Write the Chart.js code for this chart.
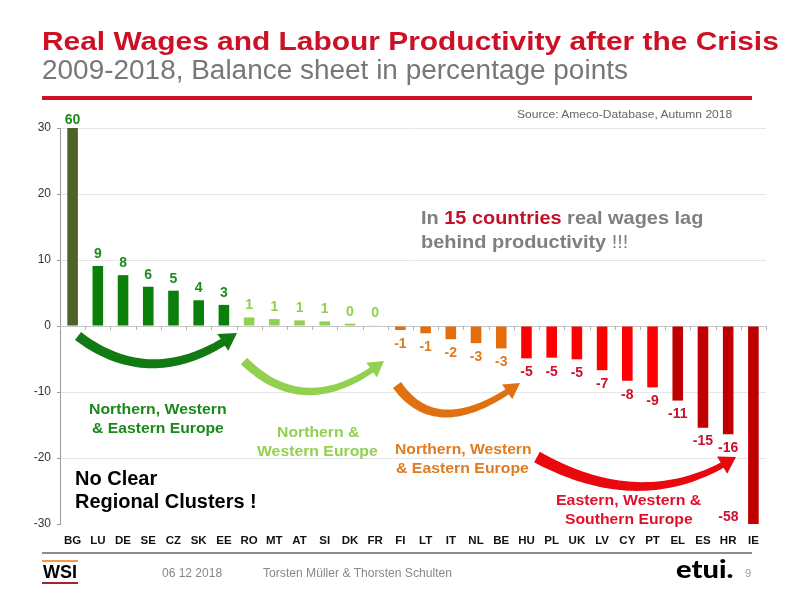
<!DOCTYPE html>
<html>
<head>
<meta charset="utf-8">
<script src="https://cdn.jsdelivr.net/npm/chart.js@4"></script>
<style>
  html, body { margin: 0; padding: 0; background: #fff; }
  #page { position: relative; width: 794px; height: 595px; overflow: hidden; font-family: "Liberation Sans", Arial, sans-serif; }
  #chart { position: absolute; left: 0; top: 0; }
  .t { position: absolute; white-space: nowrap; transform-origin: 0 0; }
  .rule { position: absolute; }
</style>
</head>
<body>
<div id="page">
  <canvas id="chart" width="794" height="595"></canvas>
</div>
<script>
// data (BG and IE run off the axis)
const countries = ["BG","LU","DE","SE","CZ","SK","EE","RO","MT","AT","SI","DK","FR",
                   "FI","LT","IT","NL","BE","HU","PL","UK","LV","CY","PT","EL","ES","HR","IE"];
const balance = [60, 9.1, 7.7, 5.95, 5.35, 3.9, 3.2, 1.3, 1.05, 0.85, 0.7, 0.35, 0.1,
                 -0.6, -1.1, -2.0, -2.6, -3.4, -4.9, -4.8, -5.05, -6.7, -8.3, -9.3, -11.3, -15.4, -16.4, -58];
const cluster = [0,1,1,1,1,1,1,2,2,2,2,2,2,3,3,3,3,3,4,4,4,4,4,4,5,5,5,5];
const yTicks = [-30, -20, -10, 0, 10, 20, 30];

const barColors = ["#4F6228", "#0A7F0A", "#92D050", "#E46C0A", "#FF0000", "#C00000"];
const labelColors = ["#1E8A1E", "#1E8A1E", "#92D050", "#E07B20", "#D0102A", "#C8102E"];
const FONT = '"Liberation Sans", Arial, sans-serif';

const page = document.getElementById("page");

function addText(html, x, y, o) {
  const d = document.createElement("div");
  d.className = "t";
  d.innerHTML = html;
  d.style.font = (o.weight || "normal") + " " + o.size + "px " + (o.family || FONT);
  d.style.lineHeight = "1";
  d.style.color = o.color || "#000";
  page.appendChild(d);
  const w = d.offsetWidth, h = d.offsetHeight;
  const s = o.width ? o.width / w : 1;
  let left = x;
  if (o.align === "center") left = x - w * s / 2;
  if (o.align === "right") left = x - w * s;
  d.style.left = left + "px";
  d.style.top = (y - h / 2) + "px";
  d.style.transform = "scaleX(" + s + ")";
}

function addRule(x, y, w, h, color) {
  const d = document.createElement("div");
  d.className = "rule";
  d.style.left = x + "px"; d.style.top = y + "px";
  d.style.width = w + "px"; d.style.height = h + "px";
  d.style.background = color;
  page.appendChild(d);
}

function drawArrow(ctx, a, c, b, w0, w1, hw, hl, color) {
  const pt = t => ({
    x: (1 - t) * (1 - t) * a.x + 2 * (1 - t) * t * c.x + t * t * b.x,
    y: (1 - t) * (1 - t) * a.y + 2 * (1 - t) * t * c.y + t * t * b.y
  });
  let tb = 1;
  while (tb > 0 && Math.hypot(pt(tb).x - b.x, pt(tb).y - b.y) < hl) tb -= 0.005;
  const N = 40, left = [], right = [];
  for (let i = 0; i <= N; i++) {
    const t = tb * i / N;
    const p = pt(t);
    const dx = 2 * (1 - t) * (c.x - a.x) + 2 * t * (b.x - c.x);
    const dy = 2 * (1 - t) * (c.y - a.y) + 2 * t * (b.y - c.y);
    const L = Math.hypot(dx, dy);
    const w = (w0 + (w1 - w0) * i / N) / 2;
    left.push([p.x - dy / L * w, p.y + dx / L * w]);
    right.push([p.x + dy / L * w, p.y - dx / L * w]);
  }
  const B = pt(tb);
  const L = Math.hypot(b.x - B.x, b.y - B.y);
  const ux = (b.x - B.x) / L, uy = (b.y - B.y) / L;
  ctx.beginPath();
  left.forEach((p, i) => i ? ctx.lineTo(p[0], p[1]) : ctx.moveTo(p[0], p[1]));
  ctx.lineTo(B.x - uy * hw / 2, B.y + ux * hw / 2);
  ctx.lineTo(b.x, b.y);
  ctx.lineTo(B.x + uy * hw / 2, B.y - ux * hw / 2);
  for (let i = right.length - 1; i >= 0; i--) ctx.lineTo(right[i][0], right[i][1]);
  ctx.closePath();
  ctx.fillStyle = color;
  ctx.fill();
}

const overlay = {
  id: "overlay",
  afterDatasetsDraw(chart) {
    const { ctx, chartArea, scales: { y } } = chart;
    const meta = chart.getDatasetMeta(0);
    ctx.save();

    // little ticks on the zero line
    const y0 = y.getPixelForValue(0);
    ctx.strokeStyle = "#b5b5b5";
    ctx.lineWidth = 1;
    ctx.beginPath();
    for (let i = 0; i <= countries.length; i++) {
      const px = Math.round(chartArea.left + (chartArea.right - chartArea.left) * i / countries.length) + 0.5;
      ctx.moveTo(px, y0);
      ctx.lineTo(px, y0 + 4);
    }
    ctx.stroke();

    // value labels
    ctx.font = "bold 14px " + FONT;
    ctx.textAlign = "center";
    ctx.textBaseline = "middle";
    meta.data.forEach((bar, i) => {
      const v = balance[i];
      let lx = bar.x, ly;
      if (v > y.max) ly = chartArea.top - 8;
      else if (v < y.min) { lx = bar.x - 25; ly = chartArea.bottom - 7; }
      else if (v >= 0) ly = bar.y - 12;
      else ly = bar.y + 14;
      ctx.fillStyle = labelColors[cluster[i]];
      ctx.fillText(String(Math.round(v) || 0), lx, ly);
    });

    // cluster arrows
    drawArrow(ctx, {x: 78, y: 336}, {x: 153, y: 393}, {x: 237, y: 333}, 10, 8, 20, 17, "#127A12");
    drawArrow(ctx, {x: 244, y: 361}, {x: 306, y: 422}, {x: 384, y: 361}, 9, 6, 18, 15, "#92D050");
    drawArrow(ctx, {x: 397, y: 385}, {x: 438, y: 443}, {x: 520, y: 383}, 10, 6, 18, 15, "#E07010");
    drawArrow(ctx, {x: 537, y: 457}, {x: 644, y: 516}, {x: 736, y: 457}, 12, 6, 20, 16, "#E8080E");
    ctx.restore();
  }
};

new Chart(document.getElementById("chart"), {
  type: "bar",
  data: {
    labels: countries,
    datasets: [{
      data: balance,
      backgroundColor: cluster.map(g => barColors[g]),
      barPercentage: 0.42,
      categoryPercentage: 1
    }]
  },
  options: {
    responsive: false,
    animation: false,
    layout: { padding: { left: 0, top: 128, right: 28, bottom: 0 } },
    plugins: { legend: { display: false }, tooltip: { enabled: false } },
    scales: {
      x: {
        grid: { display: false, drawTicks: false },
        border: { display: false },
        ticks: { color: "#111", font: { family: FONT, size: 11.5, weight: "bold" }, padding: 10, maxRotation: 0, autoSkip: false },
        afterFit: s => { s.height = 71; }
      },
      y: {
        min: -30,
        max: 30,
        afterBuildTicks: s => { s.ticks = yTicks.map(v => ({ value: v })); },
        grid: {
          color: c => c.tick.value === -30 ? "rgba(0,0,0,0)" : (c.tick.value === 0 ? "#c8c8c8" : "#e6e6e6"),
          tickColor: "#999",
          tickLength: 3
        },
        border: { display: true, color: "#999" },
        ticks: { color: "#333", font: { family: FONT, size: 12 }, padding: 6 },
        afterFit: s => { s.width = 60; }
      }
    }
  },
  plugins: [overlay]
});

// header
addText("Real Wages and Labour Productivity after the Crisis", 42, 41, { size: 26.5, weight: "bold", color: "#CC1126", width: 737 });
addText("2009-2018, Balance sheet in percentage points", 42, 70, { size: 27, color: "#777", width: 586 });
addRule(42, 96, 710, 4, "#CC1126");
addText("Source: Ameco-Database, Autumn 2018", 732, 115, { size: 11.5, color: "#666", align: "right", width: 215 });

// notes inside the plot
addText('In <span style="color:#C0102A">15 countries</span> real wages lag', 421, 217, { size: 19, weight: "bold", color: "#7F7F7F", width: 282 });
addText('behind productivity <span style="font-weight:normal">!!!</span>', 421, 241, { size: 19, weight: "bold", color: "#7F7F7F", width: 207 });
addText("No Clear", 75, 479, { size: 19.5, weight: "bold", color: "#000", width: 82 });
addText("Regional Clusters !", 75, 502, { size: 19.5, weight: "bold", color: "#000", width: 182 });

addText("Northern, Western", 158, 408, { size: 15, weight: "bold", color: "#1A8A1A", align: "center", width: 138 });
addText("&amp; Eastern Europe", 158, 427.5, { size: 15, weight: "bold", color: "#1A8A1A", align: "center", width: 132 });
addText("Northern &amp;", 317.5, 431, { size: 15, weight: "bold", color: "#92D050", align: "center", width: 82 });
addText("Western Europe", 317.5, 450, { size: 15, weight: "bold", color: "#92D050", align: "center", width: 121 });
addText("Northern, Western", 463.5, 448, { size: 15, weight: "bold", color: "#E07B20", align: "center", width: 137 });
addText("&amp; Eastern Europe", 462.5, 467, { size: 15, weight: "bold", color: "#E07B20", align: "center", width: 133 });
addText("Eastern, Western &amp;", 628.5, 499, { size: 15, weight: "bold", color: "#E0102A", align: "center", width: 145 });
addText("Southern Europe", 629, 518, { size: 15, weight: "bold", color: "#E0102A", align: "center", width: 128 });

// footer
addRule(42, 552, 710, 2, "#8C8C8C");
addRule(42, 560, 36, 2, "#F79646");
addText("WSI", 60, 571.5, { size: 18, weight: "bold", color: "#000", align: "center", width: 34 });
addRule(42, 582, 36, 2, "#A0282D");
addText("06 12 2018", 162, 573, { size: 12, color: "#888", family: '"Liberation Sans Narrow", ' + FONT, width: 60 });
addText("Torsten Müller &amp; Thorsten Schulten", 263, 573, { size: 12.5, color: "#888", family: '"Liberation Sans Narrow", ' + FONT, width: 189 });
addText("etui.", 676, 568, { size: 25, weight: "900", color: "#000", family: 'Lato, "DejaVu Sans", sans-serif', width: 57 });
addText("9", 745, 573, { size: 11, color: "#999" });
</script>
</body>
</html>
